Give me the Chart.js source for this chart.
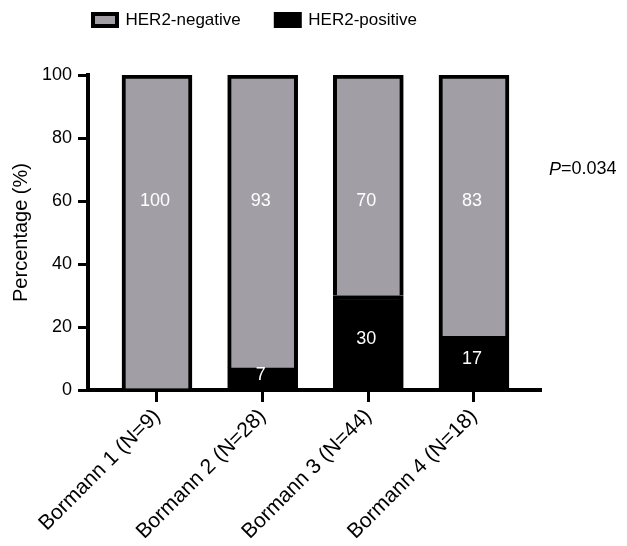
<!DOCTYPE html>
<html><head><meta charset="utf-8">
<script src="https://cdn.jsdelivr.net/npm/chart.js@4.4.1/dist/chart.umd.min.js"></script>
<style>html,body{margin:0;padding:0;background:#fff}#wrap{width:627px;height:546px}</style>
</head><body><div id="wrap"><canvas id="c"></canvas></div>
<script>
const categories = ['Bormann 1 (N=9)', 'Bormann 2 (N=28)', 'Bormann 3 (N=44)', 'Bormann 4 (N=18)'];
const her2Negative = [100, 93, 70, 83];
const her2Positive = [0, 7, 30, 17];
const yTickValues = [0, 20, 40, 60, 80, 100];
const seriesNames = ['HER2-negative', 'HER2-positive'];
const pLabel = 'P';
const pValue = '=0.034';

const FONT = 'Arial, "Liberation Sans", sans-serif';
const GRAY = '#a19fa5';

const toPoints = arr => arr.map((v, i) => ({x: i, y: v}));

const layoutFix = {
  id: 'layoutFix',
  afterLayout(chart) {
    const lg = chart.legend;
    const w = lg.right - lg.left;
    lg.left = 58; lg.right = 58 + w;
    const h = lg.bottom - lg.top;
    lg.top = -23.5; lg.bottom = lg.top + h;
  }
};

const labelsPlugin = {
  id: 'valueLabels',
  afterDatasetsDraw(chart) {
    const ctx = chart.ctx;
    const ys = chart.scales.y;
    ctx.save();
    ctx.fillStyle = '#fff';
    ctx.font = '18px ' + FONT;
    ctx.textAlign = 'center';
    ctx.textBaseline = 'middle';
    const posMeta = chart.getDatasetMeta(0);
    const negMeta = chart.getDatasetMeta(1);
    negMeta.data.forEach((bar, i) => {
      ctx.fillText(String(her2Negative[i]), bar.x - 2, ys.getPixelForValue(60));
    });
    posMeta.data.forEach((bar, i) => {
      if (her2Positive[i] > 0) {
        ctx.fillText(String(her2Positive[i]), bar.x - 2, (bar.y + bar.base) / 2 - 3);
      }
    });
    ctx.restore();
  },
  afterDraw(chart) {
    const ctx = chart.ctx;
    const ca = chart.chartArea;
    const ys = chart.scales.y;
    ctx.save();
    ctx.fillStyle = '#000';
    ctx.textBaseline = 'middle';
    ctx.textAlign = 'left';
    const x0 = ca.right + 9;
    const y0 = ys.getPixelForValue(70);
    ctx.font = 'italic 18px ' + FONT;
    ctx.fillText(pLabel, x0, y0);
    const w = ctx.measureText(pLabel).width;
    ctx.font = '18px ' + FONT;
    ctx.fillText(pValue, x0 + w, y0);
    ctx.restore();
  }
};

new Chart(document.getElementById('c'), {
  type: 'bar',
  data: {
    datasets: [
      {label: seriesNames[1], data: toPoints(her2Positive), backgroundColor: '#000', borderColor: '#000', borderWidth: 4, barThickness: 70},
      {label: seriesNames[0], data: toPoints(her2Negative), backgroundColor: GRAY, borderColor: '#000', borderWidth: 4, barThickness: 70}
    ]
  },
  options: {
    responsive: true,
    maintainAspectRatio: false,
    animation: false,
    layout: {padding: {top: 13, right: 87, bottom: 0, left: 0}},
    plugins: {
      tooltip: {enabled: false},
      legend: {
        position: 'top',
        align: 'start',
        reverse: true,
        labels: {boxWidth: 24, boxHeight: 12, padding: 35, color: '#000', font: {size: 17, family: FONT}}
      }
    },
    scales: {
      x: {
        type: 'linear',
        stacked: true,
        offset: false,
        min: -0.653,
        max: 3.625,
        z: 1,
        afterBuildTicks(scale) { scale.ticks = categories.map((_, i) => ({value: i})); },
        afterFit(scale) { scale.height = 156; },
        grid: {offset: false, drawOnChartArea: false, drawTicks: true, tickLength: 12, lineWidth: 3, tickWidth: 3, tickColor: '#000', color: '#000'},
        border: {display: true, color: '#000', width: 4},
        ticks: {
          autoSkip: false, minRotation: 45, maxRotation: 45, padding: 2, color: '#000',
          font: {size: 21, family: FONT},
          callback: v => categories[v]
        }
      },
      y: {
        stacked: true,
        min: 0,
        max: 100,
        z: 1,
        afterBuildTicks(scale) { scale.ticks = yTickValues.map(v => ({value: v})); },
        afterFit(scale) { scale.width = 88; },
        grid: {drawOnChartArea: false, drawTicks: true, tickLength: 10, lineWidth: 3, tickWidth: 3, tickColor: '#000', color: '#000'},
        border: {display: true, color: '#000', width: 4},
        ticks: {padding: 6, color: '#000', font: {size: 18, family: FONT}},
        title: {display: true, text: 'Percentage (%)', color: '#000', font: {size: 20, family: FONT}, padding: {top: 9, bottom: 4}}
      }
    }
  },
  plugins: [layoutFix, labelsPlugin]
});
</script>
</body></html>
